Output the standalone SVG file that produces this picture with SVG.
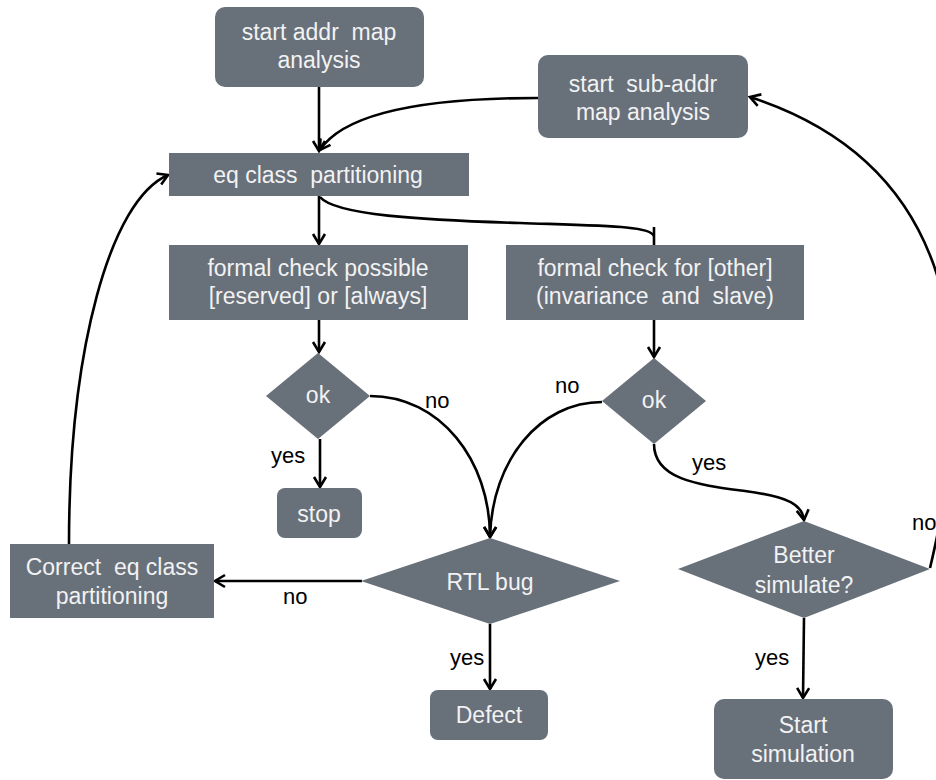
<svg xmlns="http://www.w3.org/2000/svg" width="936" height="780" viewBox="0 0 936 780">
<defs>
<style>
.n{fill:#68707a}
.t{font-family:"Liberation Sans",Arial,sans-serif;font-size:23px;fill:#f2f2f2;text-anchor:middle;white-space:pre}
.l{font-family:"Liberation Sans",Arial,sans-serif;font-size:22px;fill:#000}
.c{fill:none;stroke:#000;stroke-width:2.6}
</style>
<marker id="a" markerUnits="userSpaceOnUse" markerWidth="16" markerHeight="16" refX="13" refY="8" orient="auto">
<path d="M3,2 L13,8 L3,14" fill="none" stroke="#000" stroke-width="2.6"/>
</marker>
</defs>
<rect width="936" height="780" fill="#fff"/>
<g id="connectors">
<path class="c" d="M319,87 L319,151" marker-end="url(#a)"/>
<path class="c" d="M538,98 C430,98 345,112 320,150" marker-end="url(#a)"/>
<path class="c" d="M319,196 L319,244" marker-end="url(#a)"/>
<path class="c" d="M320,197 C335,215 420,220 520,223 C610,226 650,226 654,236"/>
<path class="c" d="M654,227 L654,245"/>
<path class="c" d="M319,320 L319,352" marker-end="url(#a)"/>
<path class="c" d="M654,320 L654,357" marker-end="url(#a)"/>
<path class="c" d="M320,439 L320,487" marker-end="url(#a)"/>
<path class="c" d="M370,396 C440,396 490,460 490,537" marker-end="url(#a)"/>
<path class="c" d="M602,402 C540,402 492,460 490,537" marker-end="url(#a)"/>
<path class="c" d="M654,444 C654,480 700,485 745,491 C790,497 802,505 804,520" marker-end="url(#a)"/>
<path class="c" d="M930,568 C975,380 975,170 750,97" marker-end="url(#a)"/>
<path class="c" d="M362,581 L215,581" marker-end="url(#a)"/>
<path class="c" d="M490,624 L490,689" marker-end="url(#a)"/>
<path class="c" d="M804,618 L803,698" marker-end="url(#a)"/>
<path class="c" d="M69,544 C69,350 110,200 168,175" marker-end="url(#a)"/>
</g>
<g id="start-addr"><rect class="n" x="215" y="7" width="209" height="80" rx="10"/><text class="t" x="319" y="40">start addr  map</text><text class="t" x="319" y="68">analysis</text></g>
<g id="start-sub-addr"><rect class="n" x="538" y="55" width="210" height="83" rx="10"/><text class="t" x="643" y="92">start  sub-addr</text><text class="t" x="643" y="120">map analysis</text></g>
<g id="eq-class"><rect class="n" x="169" y="153" width="300" height="43"/><text class="t" x="318" y="183">eq class  partitioning</text></g>
<g id="formal-possible"><rect class="n" x="169" y="245" width="299" height="75"/><text class="t" x="318" y="276">formal check possible</text><text class="t" x="318" y="304">[reserved] or [always]</text></g>
<g id="formal-other"><rect class="n" x="506" y="245" width="298" height="75"/><text class="t" x="655" y="276">formal check for [other]</text><text class="t" x="655" y="304">(invariance  and  slave)</text></g>
<g id="ok1"><polygon class="n" points="318,353 370,396 318,439 266,396"/><text class="t" x="318" y="403">ok</text></g>
<g id="ok2"><polygon class="n" points="654,358 706,401 654,444 602,401"/><text class="t" x="654" y="408">ok</text></g>
<g id="stop"><rect class="n" x="277" y="488" width="85" height="50" rx="8"/><text class="t" x="319" y="522">stop</text></g>
<g id="rtl-bug"><polygon class="n" points="490,538 620,581 490,624 361,581"/><text class="t" x="490" y="590">RTL bug</text></g>
<g id="better-simulate"><polygon class="n" points="804,521 930,569 804,618 678,569"/><text class="t" x="804" y="563">Better</text><text class="t" x="804" y="593">simulate?</text></g>
<g id="correct-eq"><rect class="n" x="10" y="544" width="204" height="74"/><text class="t" x="112" y="575">Correct  eq class</text><text class="t" x="112" y="604">partitioning</text></g>
<g id="defect"><rect class="n" x="430" y="690" width="118" height="50" rx="8"/><text class="t" x="489" y="723">Defect</text></g>
<g id="start-simulation"><rect class="n" x="714" y="699" width="179" height="80" rx="10"/><text class="t" x="803" y="733">Start</text><text class="t" x="803" y="762">simulation</text></g>
<g id="labels">
<text class="l" x="425" y="408">no</text>
<text class="l" x="555" y="393">no</text>
<text class="l" x="271" y="463">yes</text>
<text class="l" x="692" y="470">yes</text>
<text class="l" x="912" y="530">no</text>
<text class="l" x="283" y="604">no</text>
<text class="l" x="450" y="665">yes</text>
<text class="l" x="755" y="665">yes</text>
</g>
</svg>
